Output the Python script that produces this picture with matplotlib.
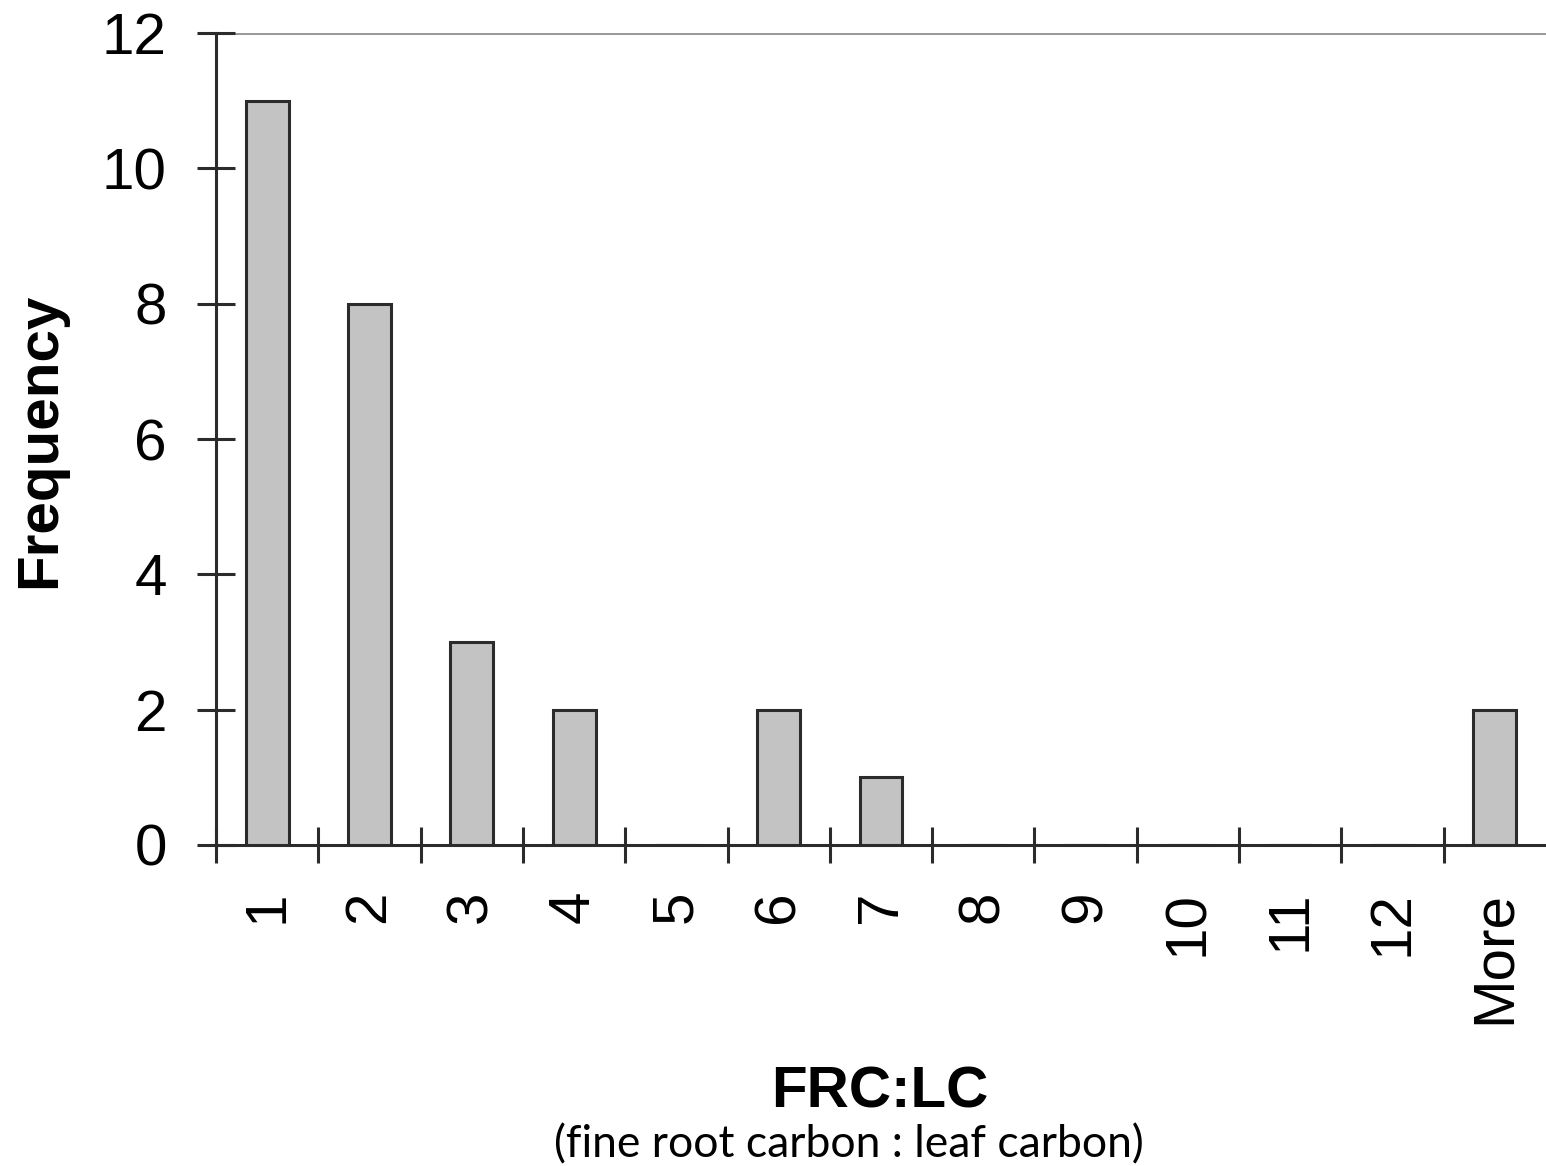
import matplotlib.pyplot as plt
import numpy as np

# histogram counts
cats = ['1', '2', '3', '4', '5', '6', '7', '8', '9', '10', '11', '12', 'More']
freq = [11, 8, 3, 2, 0, 2, 1, 0, 0, 0, 0, 0, 2]
yticks = [0, 2, 4, 6, 8, 10, 12]

W, H = 1546, 1166
fig = plt.figure(figsize=(W/100, H/100), dpi=100)
ax = fig.add_axes([216/W, 1-845/H, 1-216/W, (845-33)/H])

x = np.arange(1, len(cats)+1)
ax.bar(x, freq, width=0.42, color='#c3c3c3', edgecolor='#2b2b2b', linewidth=2.2, zorder=3)

ax.set_xlim(0.5, len(cats)+0.5)
ax.set_ylim(0, 12)
ax.axhline(12, color='#9a9a9a', lw=2.2, zorder=1)

for s in ['top', 'right']:
    ax.spines[s].set_visible(False)
for s in ['left', 'bottom']:
    ax.spines[s].set_color('#2b2b2b')
    ax.spines[s].set_linewidth(2.2)

# separator ticks between categories, labels at centres
ax.set_xticks(np.arange(0.5, len(cats), 1.0))
ax.set_xticklabels([])
ax.set_xticks(x, minor=True)
ax.set_xticklabels(cats, minor=True, rotation=90, fontsize=42, family='Liberation Sans', va='top')
ax.tick_params(axis='x', which='major', direction='inout', length=26, width=2.2, color='#2b2b2b')
ax.tick_params(axis='x', which='minor', length=0, pad=33)

ax.set_yticks(yticks)
ax.set_yticklabels([str(v) for v in yticks], fontsize=42, family='Liberation Sans')
ax.tick_params(axis='y', direction='inout', length=27, width=2.2, color='#2b2b2b', pad=22)

fig.text(40/W, 1-440/H, 'Frequency', rotation=90, ha='center', va='center',
         fontsize=42, fontweight='bold', family='Liberation Sans')
fig.text(880/W, 1-1092/H, 'FRC:LC', ha='center', va='center',
         fontsize=42, fontweight='bold', family='Liberation Sans')
fig.text(849/W, 1-1145/H, '(fine root carbon : leaf carbon)', ha='center', va='center',
         fontsize=32, family='Lato')

fig.savefig('out.png', dpi=100)
